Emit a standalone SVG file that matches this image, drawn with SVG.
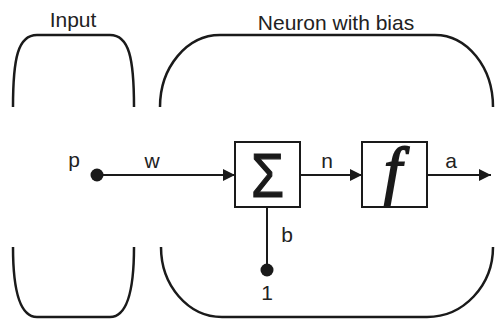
<svg xmlns="http://www.w3.org/2000/svg" width="495" height="323" viewBox="0 0 495 323">
<style>
.br{fill:none;stroke:#1a1a1a;stroke-width:2.5}
.ln{fill:none;stroke:#1a1a1a;stroke-width:2}
.box{fill:#fff;stroke:#1a1a1a;stroke-width:2}
.lbl{font-family:"Liberation Sans",Arial,sans-serif;font-size:21px;fill:#222;text-anchor:middle}
.ttl{font-family:"Liberation Sans",Arial,sans-serif;font-size:21px;fill:#222;text-anchor:middle}
.dot{fill:#1a1a1a}
</style>
<defs>
<marker id="ah" markerWidth="12" markerHeight="12" refX="12" refY="6" orient="auto" markerUnits="userSpaceOnUse">
<path d="M0,0 L12,6 L0,12 Z" fill="#1a1a1a"/>
</marker>
</defs>
<g id="input-group">
<path class="br" d="M13,107 C13,58 18,35 37,35 H110 C129,35 134,58 134,107"/>
<path class="br" d="M13,247 C13,292 20,317 37,317 H110 C127,317 134,292 134,247"/>
<text class="ttl" x="73" y="27">Input</text>
</g>
<g id="neuron-group">
<path class="br" d="M160,107 A60 72 0 0 1 220,35 H435 A58 72 0 0 1 493,107"/>
<path class="br" d="M161,247 A61 70 0 0 0 222,317 H427 A66 70 0 0 0 493,247"/>
<text class="ttl" x="336" y="30">Neuron with bias</text>
</g>
<g id="connectors">
<line class="ln" x1="97" y1="175" x2="235" y2="175" marker-end="url(#ah)"/>
<line class="ln" x1="300" y1="175" x2="362" y2="175" marker-end="url(#ah)"/>
<line class="ln" x1="427" y1="175" x2="491" y2="175" marker-end="url(#ah)"/>
<line class="ln" x1="267" y1="207" x2="267" y2="270"/>
<text class="lbl" x="152" y="168">w</text>
<text class="lbl" x="327" y="168">n</text>
<text class="lbl" x="451" y="168">a</text>
<text class="lbl" x="287" y="242">b</text>
</g>
<g id="p-input">
<circle class="dot" cx="97" cy="175" r="6.5"/>
<text class="lbl" x="74" y="167">p</text>
</g>
<g id="bias-input">
<circle class="dot" cx="267" cy="270" r="6.5"/>
<text class="lbl" x="267" y="300">1</text>
</g>
<g id="sum">
<rect class="box" x="235" y="142" width="65" height="65"/>
<text x="267.5" y="197" transform="translate(267.5 0) scale(0.85 1) translate(-267.5 0)" style="font-family:'Liberation Sans',Arial,sans-serif;font-size:63px;fill:#1a1a1a;stroke:#1a1a1a;stroke-width:1.2;text-anchor:middle">Σ</text>
</g>
<g id="transfer">
<rect class="box" x="362" y="142" width="65" height="65"/>
<text x="393" y="191" style="font-family:'Liberation Serif','Times New Roman',serif;font-size:64px;font-style:italic;fill:#1a1a1a;stroke:#1a1a1a;stroke-width:1.8;text-anchor:middle">f</text>
</g>
</svg>
